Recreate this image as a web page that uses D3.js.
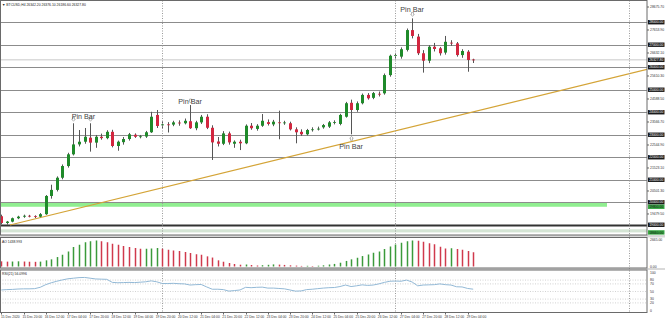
<!DOCTYPE html>
<html lang="en">
<head>
  <meta charset="UTF-8">
  <title>BTCUSD H4</title>
  <style>
    body { margin: 0; background: #fff; }
    svg { display: block; font-family: 'Liberation Sans', Arial, sans-serif; }
  </style>
</head>
<body>
  <svg id="svg" width="665" height="320"></svg>

  <script src="https://d3js.org/d3.v7.min.js"></script>
  <script>
    // H4 candles, index 0 = 15 Dec 2020 04:00
    const opens = [
      19380, 19080, 19140, 19290, 19360, 19400, 19380, 19360, 19470, 20280,
      20550, 21090, 21610, 22130, 22570, 22690, 22870, 22650, 22910, 22850,
      23130, 22500, 22670, 22810, 23000, 22910, 22920, 23110, 23880, 23420,
      23460, 23450, 23540, 23510, 23600, 23290, 23550, 23800, 23310, 22700,
      22600, 23060, 22600, 22690, 22620, 23400, 23260, 23400, 23560, 23460,
      23550, 23530, 23510, 23240, 23130, 23020, 23220, 23260, 23330, 23360,
      23550, 23480, 23800, 24420, 24100, 24400, 24770, 24640, 24820, 24840,
      25650, 26510, 26470, 26770, 27650, 27360, 26620, 26290, 26910, 26840,
      26650, 27090, 27060, 26540, 26690, 26342.2
    ]
    const highs = [
      19450, 19170, 19320, 19400, 19450, 19440, 19420, 19520, 20320, 20780,
      21150, 21680, 22200, 23510, 23210, 23300, 23510, 22990, 23050, 23200,
      23220, 22740, 22900, 23080, 23060, 22990, 23170, 24020, 24100, 23600,
      23560, 23620, 23640, 23720, 24320, 23620, 23880, 23910, 23420, 22900,
      23160, 23140, 22750, 22780, 23460, 23520, 23470, 23920, 23680, 23660,
      24070, 23620, 23580, 23330, 23240, 23260, 23330, 23360, 23480, 23610,
      23640, 23930, 24460, 24560, 24480, 24830, 24850, 24900, 24920, 25720,
      26560, 26640, 26880, 27720, 28170, 27480, 26760, 26980, 27080, 26900,
      27390, 27200, 27120, 26800, 26760, 26376.1
    ]
    const lows = [
      19020, 19010, 19110, 19250, 19310, 19330, 19300, 19330, 19440, 20160,
      20480, 21020, 21540, 22080, 22480, 22600, 22250, 22420, 22780, 22800,
      22440, 22290, 22560, 22740, 22860, 22840, 22860, 23080, 23300, 23260,
      23100, 23380, 23400, 23460, 23260, 23200, 23480, 23250, 21880, 22480,
      22540, 22560, 22420, 22320, 22580, 23220, 23180, 23350, 23410, 23380,
      22800, 23440, 23190, 22620, 22950, 22970, 23140, 23190, 23270, 23300,
      23460, 23420, 23760, 23020, 24020, 24350, 24560, 24580, 24700, 24780,
      25580, 26350, 26380, 26700, 27280, 26540, 25760, 26180, 26700, 26520,
      26560, 26950, 26470, 26420, 25800, 26186.6
    ]
    const closes = [
      19080, 19140, 19290, 19360, 19400, 19380, 19360, 19470, 20280, 20550,
      21090, 21610, 22130, 22570, 22690, 22910, 22650, 22910, 22850, 23130,
      22500, 22690, 22810, 23020, 22910, 22930, 23110, 23800, 23390, 23460,
      23450, 23550, 23510, 23620, 23290, 23550, 23800, 23310, 22660, 22600,
      23060, 22660, 22690, 22620, 23400, 23290, 23400, 23620, 23480, 23580,
      23530, 23545, 23240, 23110, 23020, 23210, 23240, 23270, 23430, 23550,
      23560, 23880, 24400, 24100, 24400, 24770, 24620, 24850, 24800, 25650,
      26510, 26540, 26800, 27650, 27390, 26620, 26290, 26910, 26810, 26620,
      27130, 27060, 26540, 26720, 26320, 26327.8
    ]

    const aoValues = [
      520, 490, 500, 520, 500, 480, 470, 490, 620, 720,
      950, 1180, 1520, 1950, 2180, 2450, 2550, 2620, 2550, 2450,
      2280, 2180, 2050, 1950, 1850, 1780, 1790, 1800, 1850, 1780,
      1680, 1620, 1550, 1450, 1350, 1220, 1180, 1020, 900, 620,
      480, 350, 250, 180, 200, 150, 100, 130, 170, 210,
      190, 160, 120, 90, 60, 70, 50, 80, 120, 200,
      260, 380, 560, 720, 880, 1050, 1200, 1380, 1520, 1750,
      2000, 2200, 2380, 2550, 2620, 2580, 2480, 2350, 2250, 1980,
      1820, 1830, 1760, 1680, 1560, 1438.993
    ]

    const rsiValues = [
      54, 55, 55.5, 56.5, 57, 57, 57.5, 61, 68, 73,
      77, 80.5, 83.5, 85, 86.5, 87, 85, 83, 82.5, 82,
      74, 73, 73.5, 74, 73.5, 74.5, 75.5, 78, 75.5, 71,
      71, 71.5, 70.5, 70, 67, 68, 68.5, 62, 56, 56,
      55, 51, 52.5, 54, 61, 60, 61, 61.5, 59, 59,
      58, 57, 54, 51, 51.5, 55, 56, 57.5, 59, 60,
      60.5, 63, 67, 63, 65, 67.5, 66, 67, 70, 74,
      77, 77.5, 77, 80, 75, 65, 67, 67.5, 68, 70,
      68, 67, 62.5, 62, 58, 56.0996
    ]

    // bottom time labels, one every 4 bars
    const timeLabels = [
      '15 Dec 2020', '15 Dec 20:00', '16 Dec 12:00', '17 Dec 04:00', '17 Dec 20:00',
      '18 Dec 12:00', '19 Dec 04:00', '19 Dec 20:00', '20 Dec 12:00', '21 Dec 04:00',
      '21 Dec 20:00', '22 Dec 12:00', '23 Dec 04:00', '23 Dec 20:00', '24 Dec 12:00',
      '25 Dec 04:00', '25 Dec 20:00', '26 Dec 12:00', '27 Dec 04:00', '27 Dec 20:00',
      '28 Dec 12:00', '29 Dec 04:00'
    ]
    const weekStarts = [29, 71, 113] // 20 Dec, 27 Dec, 03 Jan

    const priceTicks = [
      28675.70, 28164.80, 27653.90, 27143.00, 26632.10, 26121.20, 25610.30,
      25099.40, 24588.50, 24077.60, 23566.70, 23055.80, 22544.90, 22034.00,
      21523.10, 21012.20, 20501.30, 19990.40, 19479.50, 18968.60
    ]
    const levels = [28000, 27000, 26000, 25000, 24000, 23000, 22000, 21000, 20000, 19000]
    const bidPrice = 26327.80
    const supportZone = [19800, 20000]
    const lowZone = [18660, 18800]
    const trendAnchors = [[1.57, 18990], [100.6, 24960]]
    const rsiLevels = [80, 70, 50, 30, 20]
    const rsiTicks = [100, 80, 70, 50, 30, 20, 0]
    const aoTicks = [2665, 0]

    const pinMarks = [[13, 'up'], [16, 'up'], [34, 'up'], [63, 'down'], [74, 'up']]
    const pinLabels = [[14.8, 23690], [34, 24370], [63, 22370], [74, 28450]]

    const svg = d3.select('#svg')
    const plotRight = 647
    const main = { top: 0.5, bottom: 235 }
    const aoPane = { top: 237.5, bottom: 268 }
    const rsiPane = { top: 270, bottom: 312.5 }

    const xscale = d3.scaleLinear().domain([0, 85]).range([1.3, 473.2])
    const yscale = d3.scaleLinear().domain([18545.7, 28964.5]).range([main.bottom, main.top])
    const aoScale = d3.scaleLinear().domain([0, 2665]).range([266.5, 240])
    const rsiScale = d3.scaleLinear().domain([0, 100]).range([310.5, 272.5])
    const lastIndex = xscale.invert(plotRight)

    const green = '#1f8a2a'
    const red = '#d2263f'

    // clip paths
    const defs = svg.append('defs')
    ;[['clipMain', main], ['clipAo', aoPane], ['clipRsi', rsiPane]].forEach(([id, p]) => {
      defs.append('clipPath').attr('id', id)
        .append('rect').attr('x', 0).attr('y', p.top).attr('width', plotRight).attr('height', p.bottom - p.top)
    })

    // splitters
    svg.append('rect').attr('x', 0).attr('y', main.bottom).attr('width', 665).attr('height', aoPane.top - main.bottom).attr('fill', '#d9d9d9')
    svg.append('rect').attr('x', 0).attr('y', aoPane.bottom).attr('width', 665).attr('height', rsiPane.top - aoPane.bottom).attr('fill', '#d9d9d9')

    // ---------- main pane ----------
    const mainG = svg.append('g').attr('clip-path', 'url(#clipMain)')

    mainG.append('rect')
      .attr('x', xscale(-1)).attr('width', xscale(109.1) - xscale(-1))
      .attr('y', yscale(supportZone[1])).attr('height', yscale(supportZone[0]) - yscale(supportZone[1]))
      .attr('fill', '#90ee90')

    mainG.append('rect')
      .attr('x', 0).attr('width', plotRight)
      .attr('y', yscale(lowZone[1])).attr('height', yscale(lowZone[0]) - yscale(lowZone[1]))
      .attr('fill', '#d4e4d4')

    mainG.selectAll('line.level')
      .data(levels)
      .enter()
      .append('line')
      .attr('class', 'level')
      .attr('x1', 0).attr('x2', plotRight)
      .attr('y1', d => Math.round(yscale(d)) + 0.5)
      .attr('y2', d => Math.round(yscale(d)) + 0.5)
      .attr('stroke', d => d === 19000 ? '#333' : '#8c8c8c')
      .attr('stroke-width', d => d === 19000 ? 2 : 1)

    mainG.append('line')
      .attr('x1', 0).attr('x2', plotRight)
      .attr('y1', yscale(bidPrice)).attr('y2', yscale(bidPrice))
      .attr('stroke', '#c8c8c8').attr('stroke-width', 1)

    // weekly separators across all panes
    svg.append('g').selectAll('line')
      .data(weekStarts)
      .enter()
      .append('line')
      .attr('x1', d => Math.round(xscale(d)) + 0.5)
      .attr('x2', d => Math.round(xscale(d)) + 0.5)
      .attr('y1', main.top).attr('y2', rsiPane.bottom)
      .attr('stroke', '#9a9a9a').attr('stroke-dasharray', '1,1.5')

    // trend line (ray)
    const slope = (trendAnchors[1][1] - trendAnchors[0][1]) / (trendAnchors[1][0] - trendAnchors[0][0])
    mainG.append('line')
      .attr('x1', xscale(trendAnchors[0][0])).attr('y1', yscale(trendAnchors[0][1]))
      .attr('x2', xscale(lastIndex))
      .attr('y2', yscale(trendAnchors[0][1] + slope * (lastIndex - trendAnchors[0][0])))
      .attr('stroke', '#d4a437').attr('stroke-width', 1.2)

    // candles
    const candles = d3.range(opens.length)
    const candleG = mainG.append('g')
    candleG.selectAll('line.wick')
      .data(candles)
      .enter()
      .append('line')
      .attr('class', 'wick')
      .attr('x1', i => Math.round(xscale(i)) + 0.5)
      .attr('x2', i => Math.round(xscale(i)) + 0.5)
      .attr('y1', i => yscale(highs[i]))
      .attr('y2', i => yscale(lows[i]))
      .attr('stroke', '#555').attr('stroke-width', 1)

    candleG.selectAll('rect.body')
      .data(candles)
      .enter()
      .append('rect')
      .attr('class', 'body')
      .attr('x', i => Math.round(xscale(i)) - 1)
      .attr('width', 3)
      .attr('y', i => yscale(Math.max(opens[i], closes[i])))
      .attr('height', i => Math.max(0.8, Math.abs(yscale(opens[i]) - yscale(closes[i]))))
      .attr('fill', i => closes[i] >= opens[i] ? green : red)

    // pin bar marks
    mainG.selectAll('path.pin')
      .data(pinMarks)
      .enter()
      .append('path')
      .attr('class', 'pin')
      .attr('transform', d => d[1] === 'up'
        ? `translate(${Math.round(xscale(d[0])) + 0.5}, ${yscale(highs[d[0]]) - 4})`
        : `translate(${Math.round(xscale(d[0])) + 0.5}, ${yscale(lows[d[0]]) + 4}) scale(1,-1)`)
      .attr('d', 'M-1,-2 L1,-2 L1,0 L1.8,0 L0,2 L-1.8,0 L-1,0 Z')
      .attr('fill', 'none').attr('stroke', '#777').attr('stroke-width', 0.5)

    mainG.selectAll('text.pinlabel')
      .data(pinLabels)
      .enter()
      .append('text')
      .attr('class', 'pinlabel')
      .attr('x', d => xscale(d[0]))
      .attr('y', d => yscale(d[1]))
      .attr('text-anchor', 'middle')
      .attr('font-size', 7.2)
      .attr('fill', '#444')
      .text('Pin Bar')

    // header
    svg.append('text')
      .attr('x', 2).attr('y', 5.5)
      .attr('font-size', 3.4).attr('fill', '#222')
      .text('\u25BC BTCUSD,H4  26342.20 26376.10 26186.60 26327.80')

    // ---------- AO pane ----------
    const aoG = svg.append('g').attr('clip-path', 'url(#clipAo)')
    aoG.selectAll('line')
      .data(candles)
      .enter()
      .append('line')
      .attr('x1', i => Math.round(xscale(i)) + 0.5)
      .attr('x2', i => Math.round(xscale(i)) + 0.5)
      .attr('y1', aoScale(0))
      .attr('y2', i => aoScale(aoValues[i]))
      .attr('stroke', i => i > 0 && aoValues[i] > aoValues[i - 1] ? '#3a9a3a' : '#d0394c')
      .attr('stroke-width', 1.5)

    svg.append('text')
      .attr('x', 2).attr('y', 242.5)
      .attr('font-size', 3.4).attr('fill', '#222')
      .text('AO 1438.993')

    // ---------- RSI pane ----------
    const rsiG = svg.append('g').attr('clip-path', 'url(#clipRsi)')
    rsiG.selectAll('line')
      .data(rsiLevels)
      .enter()
      .append('line')
      .attr('x1', 0).attr('x2', plotRight)
      .attr('y1', d => rsiScale(d)).attr('y2', d => rsiScale(d))
      .attr('stroke', '#b5b5b5').attr('stroke-width', 0.6).attr('stroke-dasharray', '1,1.5')

    const rsiLine = d3.line()
      .x((d, i) => xscale(i))
      .y(d => rsiScale(d))
    rsiG.append('path')
      .datum(rsiValues)
      .attr('d', rsiLine)
      .attr('fill', 'none').attr('stroke', '#93b9d6').attr('stroke-width', 1)

    svg.append('text')
      .attr('x', 2).attr('y', 275)
      .attr('font-size', 3.4).attr('fill', '#222')
      .text('RSI(21) 56.0996')

    // ---------- frames ----------
    ;[main, aoPane, rsiPane].forEach(p => {
      svg.append('rect')
        .attr('x', 0.5).attr('y', p.top)
        .attr('width', plotRight - 0.5).attr('height', p.bottom - p.top)
        .attr('fill', 'none').attr('stroke', '#6a6a6a').attr('stroke-width', 1)
    })

    // ---------- right price axis ----------
    const axisG = svg.append('g').attr('font-size', 3.4)
    const boxed = levels.concat([bidPrice])
    const visibleTicks = priceTicks.filter(t => boxed.every(b => Math.abs(yscale(b) - yscale(t)) > 4.2))

    axisG.selectAll('line.ptick')
      .data(visibleTicks)
      .enter()
      .append('line')
      .attr('class', 'ptick')
      .attr('x1', plotRight).attr('x2', plotRight + 2)
      .attr('y1', d => yscale(d)).attr('y2', d => yscale(d))
      .attr('stroke', '#666')

    axisG.selectAll('text.ptick')
      .data(visibleTicks)
      .enter()
      .append('text')
      .attr('class', 'ptick')
      .attr('x', plotRight + 3)
      .attr('y', d => yscale(d) + 1.2)
      .attr('fill', '#333')
      .text(d => d.toFixed(2))

    const boxG = axisG.selectAll('g.box')
      .data(boxed)
      .enter()
      .append('g')
      .attr('class', 'box')
      .attr('transform', d => `translate(${plotRight + 1}, ${yscale(d)})`)
    boxG.append('rect')
      .attr('x', 0).attr('y', -2.2).attr('width', 16.5).attr('height', 4.4)
      .attr('fill', '#1a1a1a')
    boxG.append('text')
      .attr('x', 1.2).attr('y', 1.2)
      .attr('fill', '#fff')
      .text(d => d.toFixed(2))

    const greenBoxes = [supportZone[0], lowZone[0]]
    const gBox = axisG.selectAll('g.gbox')
      .data(greenBoxes)
      .enter()
      .append('g')
      .attr('class', 'gbox')
      .attr('transform', d => `translate(${plotRight + 1}, ${Math.min(yscale(d), main.bottom - 1.5)})`)
    gBox.append('rect')
      .attr('x', 0).attr('y', -2.2).attr('width', 16.5).attr('height', 4.4)
      .attr('fill', '#38a843')
    gBox.append('text')
      .attr('x', 1.2).attr('y', 1.2)
      .attr('fill', '#111')
      .text(d => d.toFixed(2))

    // AO + RSI scale labels
    axisG.selectAll('text.ao')
      .data(aoTicks)
      .enter()
      .append('text')
      .attr('class', 'ao')
      .attr('x', plotRight + 3)
      .attr('y', d => aoScale(d) + 1.2)
      .attr('fill', '#333')
      .text(d => d.toFixed(2))

    axisG.selectAll('text.rsi')
      .data(rsiTicks)
      .enter()
      .append('text')
      .attr('class', 'rsi')
      .attr('x', plotRight + 3)
      .attr('y', d => rsiScale(d) + 1.2)
      .attr('fill', '#333')
      .text(d => d)

    // ---------- bottom time axis ----------
    const timeG = svg.append('g').attr('font-size', 3.3)
    timeG.selectAll('line')
      .data(timeLabels)
      .enter()
      .append('line')
      .attr('x1', (d, k) => Math.round(xscale(k * 4)) + 0.5)
      .attr('x2', (d, k) => Math.round(xscale(k * 4)) + 0.5)
      .attr('y1', rsiPane.bottom).attr('y2', rsiPane.bottom + 2)
      .attr('stroke', '#666')
    timeG.selectAll('text')
      .data(timeLabels)
      .enter()
      .append('text')
      .attr('x', (d, k) => Math.max(1, xscale(k * 4) - 1))
      .attr('y', 317.5)
      .attr('fill', '#333')
      .text(d => d)
  </script>
</body>
</html>
